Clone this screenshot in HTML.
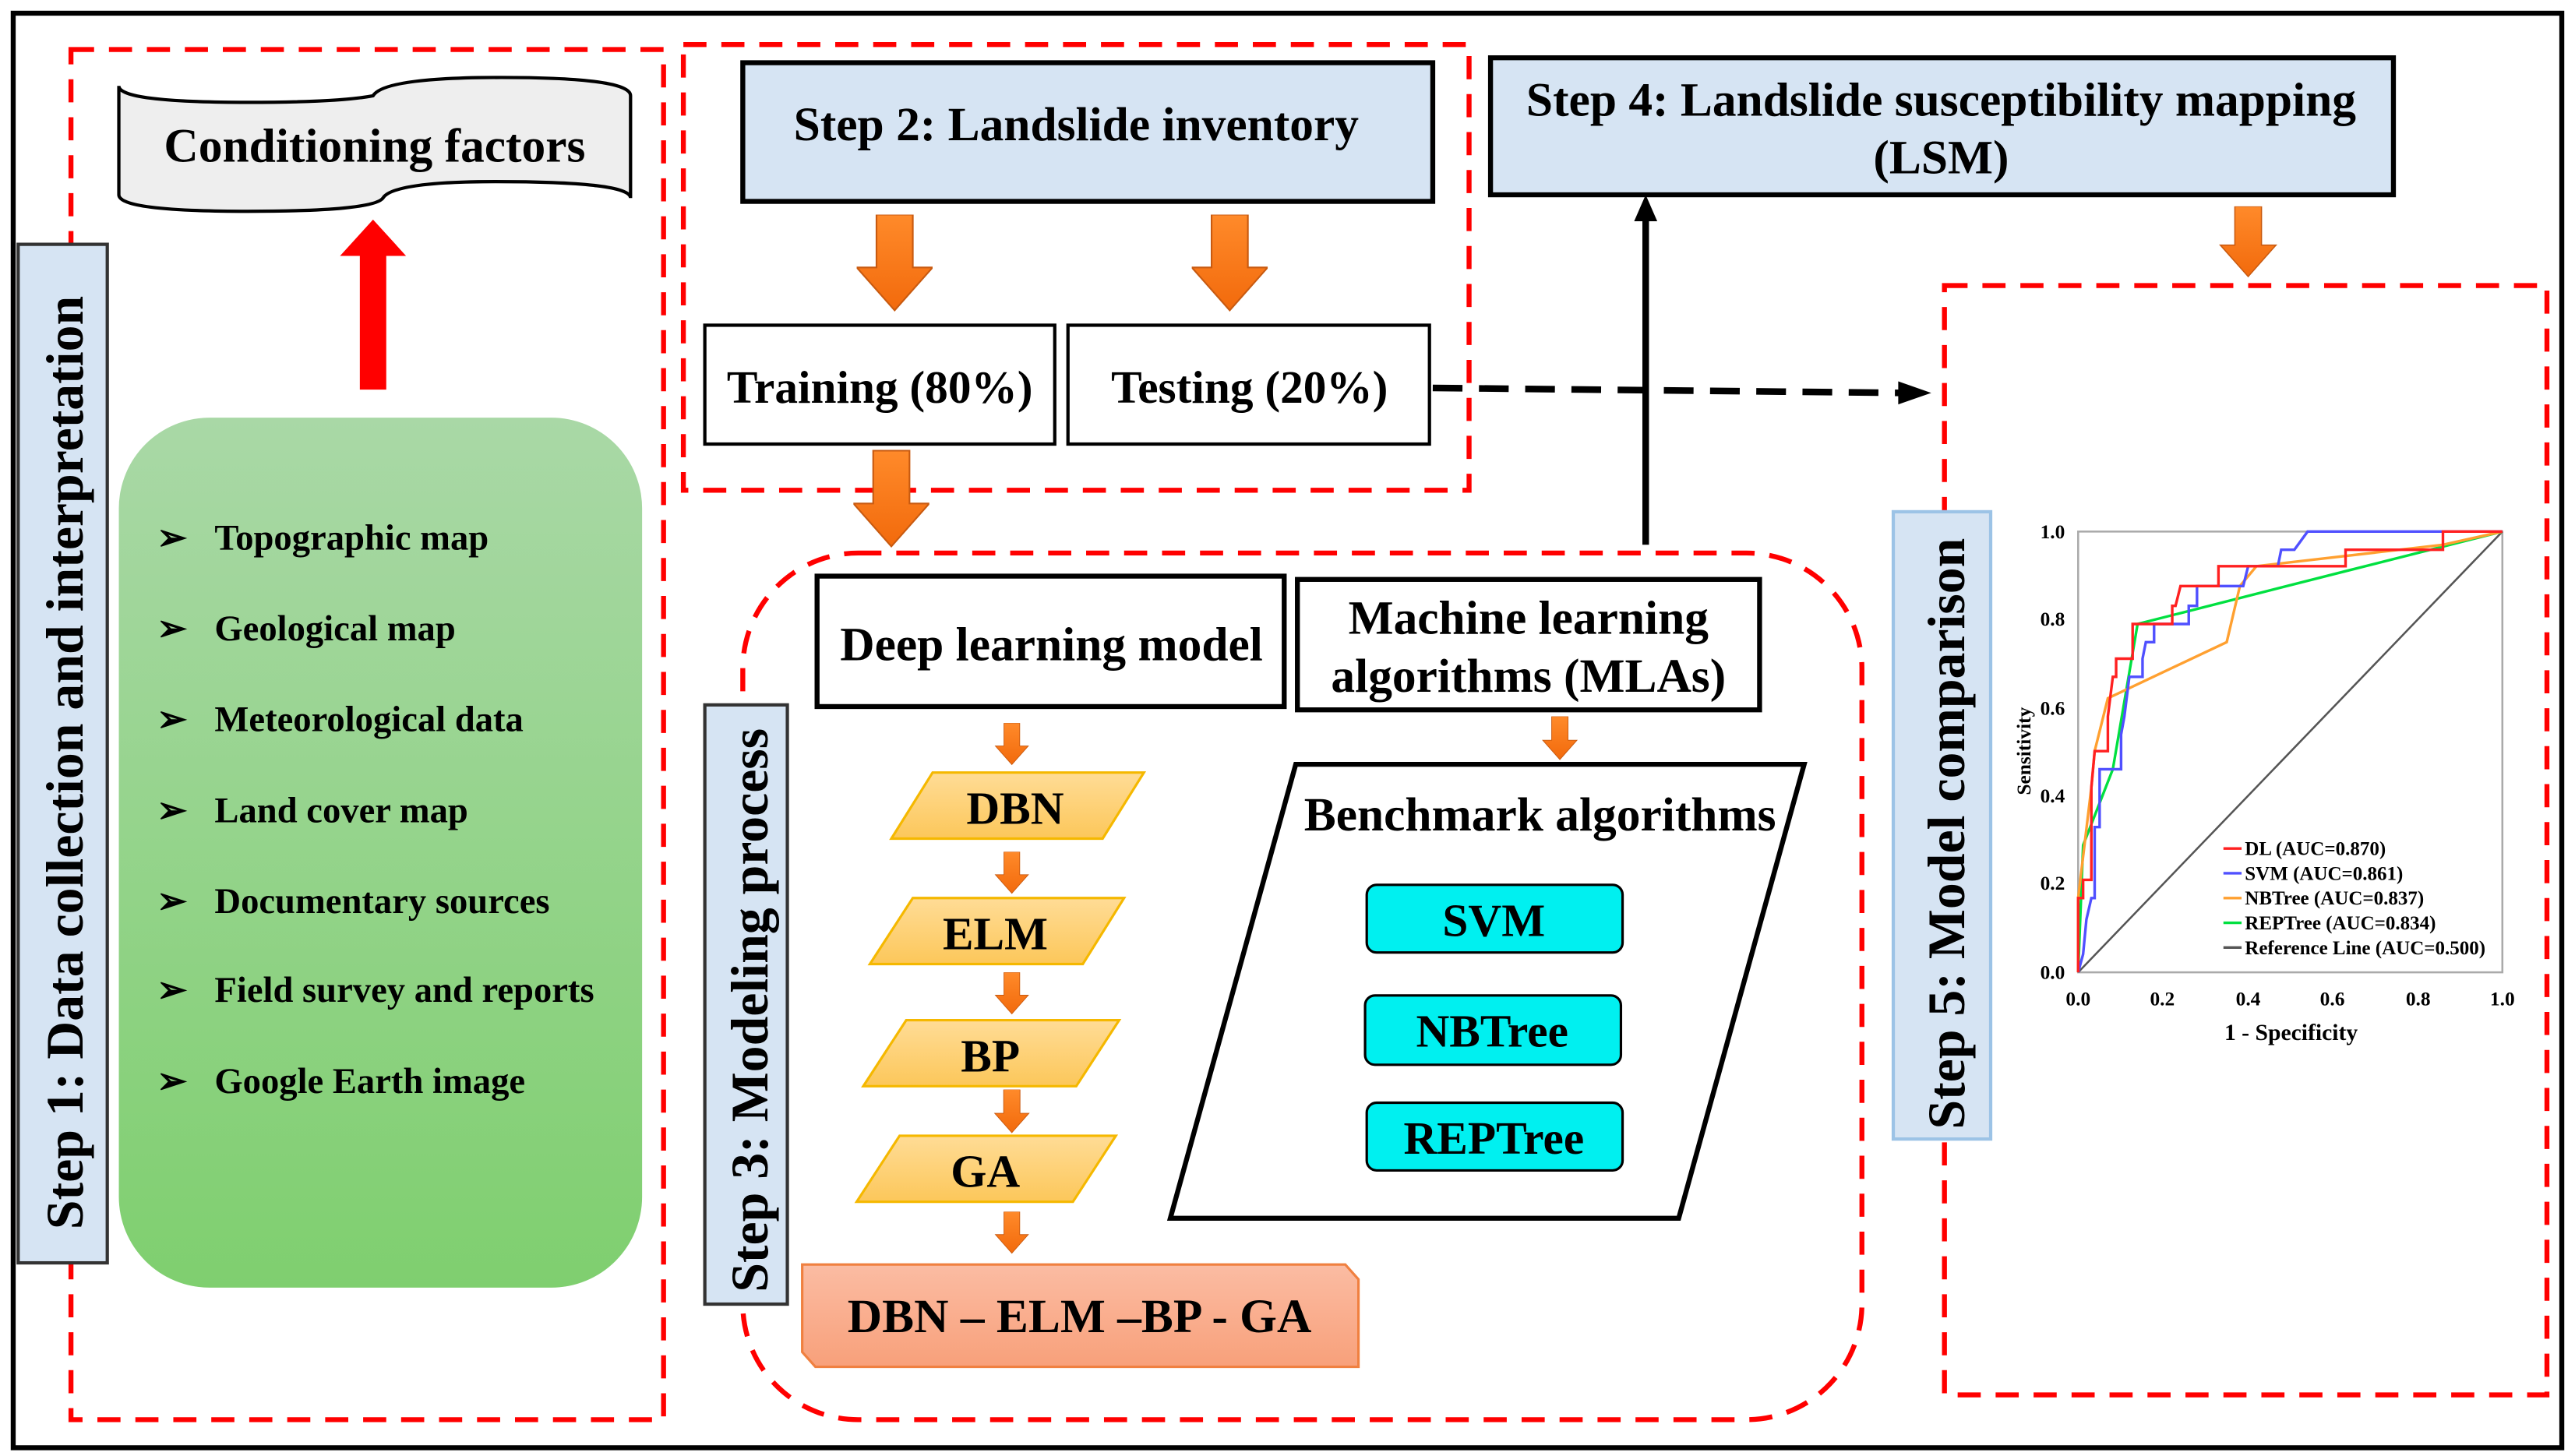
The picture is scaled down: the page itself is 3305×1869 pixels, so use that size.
<!DOCTYPE html>
<html><head><meta charset="utf-8"><style>
html,body{margin:0;padding:0;background:#fff;}
svg{display:block;}
text{font-family:"Liberation Serif",serif;font-weight:bold;fill:#000;}
</style></head><body>
<svg width="3305" height="1869" viewBox="0 0 1560 882" preserveAspectRatio="none" xmlns="http://www.w3.org/2000/svg">
<defs>
<linearGradient id="g1" x1="0" y1="0" x2="0" y2="1"><stop offset="0" stop-color="#a9d8a6"/><stop offset="1" stop-color="#7fcf6f"/></linearGradient>
<linearGradient id="gy" x1="0" y1="0" x2="0" y2="1"><stop offset="0" stop-color="#ffdc96"/><stop offset="1" stop-color="#fcc75a"/></linearGradient>
<linearGradient id="gs" x1="0" y1="0" x2="0" y2="1"><stop offset="0" stop-color="#fbbca3"/><stop offset="1" stop-color="#f8a07a"/></linearGradient>
<linearGradient id="go" x1="0" y1="0" x2="0" y2="1"><stop offset="0" stop-color="#ff8a2a"/><stop offset="1" stop-color="#f26a0c"/></linearGradient>
<symbol id="oa" viewBox="0 0 46 60"><path d="M12 0H34V32H46L23 58L0 32H12Z" fill="url(#go)" stroke="#c85a10" stroke-width="1"/></symbol>
</defs>
<rect x="8" y="8" width="1544" height="869" fill="#fff" stroke="#000" stroke-width="3"/>
<g fill="none" stroke="#f00" stroke-width="3" stroke-dasharray="14,9">
<rect x="43" y="30" width="359" height="830"/>
<rect x="414" y="27" width="476" height="270"/>
<rect x="450" y="335" width="678" height="525" rx="70"/>
<rect x="1178" y="173" width="365" height="672"/>
</g>
<!-- Step1 -->
<path d="M72 52 Q72 62 150 62 Q205 62 226 58 Q232 48 290 47 Q382 46 382 58 V120 Q382 110 300 110 Q238 110 232 120 Q226 128 150 128 Q72 128 72 118 Z" fill="#eee" stroke="#000" stroke-width="2"/>
<text x="227" y="98" font-size="29" text-anchor="middle">Conditioning factors</text>
<path d="M218 236 V155 H206 L226 133 L246 155 H234 V236 Z" fill="#f00"/>
<rect x="72" y="253" width="317" height="527" rx="55" fill="url(#g1)"/>
<g font-size="22">
<text x="95" y="333">➢</text><text x="130" y="333">Topographic map</text>
<text x="95" y="388">➢</text><text x="130" y="388">Geological map</text>
<text x="95" y="443">➢</text><text x="130" y="443">Meteorological data</text>
<text x="95" y="498">➢</text><text x="130" y="498">Land cover map</text>
<text x="95" y="553">➢</text><text x="130" y="553">Documentary sources</text>
<text x="95" y="607">➢</text><text x="130" y="607">Field survey and reports</text>
<text x="95" y="662">➢</text><text x="130" y="662">Google Earth image</text>
</g>
<rect x="11" y="148" width="54" height="617" fill="#d6e4f3" stroke="#333" stroke-width="2"/>
<text transform="translate(50,462) rotate(-90)" font-size="32" text-anchor="middle">Step 1: Data collection and interpretation</text>
<!-- Step2 -->
<rect x="450" y="38" width="418" height="84" fill="#d6e4f3" stroke="#000" stroke-width="3"/>
<text x="652" y="85" font-size="29" text-anchor="middle">Step 2: Landslide inventory</text>
<use href="#oa" x="519" y="130" width="46" height="60"/>
<use href="#oa" x="722" y="130" width="46" height="60"/>
<rect x="427" y="197" width="212" height="72" fill="#fff" stroke="#000" stroke-width="2"/>
<text x="533" y="244" font-size="28" text-anchor="middle">Training (80%)</text>
<rect x="647" y="197" width="219" height="72" fill="#fff" stroke="#000" stroke-width="2"/>
<text x="757" y="244" font-size="28" text-anchor="middle">Testing (20%)</text>
<use href="#oa" x="517" y="272" width="46" height="62"/>
<line x1="868" y1="235" x2="1152" y2="238" stroke="#000" stroke-width="4" stroke-dasharray="18,10"/>
<path d="M1150 231 L1170 238 L1150 245 Z" fill="#000"/>
<line x1="997" y1="330" x2="997" y2="132" stroke="#000" stroke-width="4"/>
<path d="M990 134 L997 118 L1004 134 Z" fill="#000"/>
<!-- Step4 -->
<rect x="903" y="35" width="547" height="83" fill="#d6e4f3" stroke="#000" stroke-width="3"/>
<text x="1176" y="70" font-size="29" text-anchor="middle">Step 4: Landslide susceptibility mapping</text>
<text x="1176" y="105" font-size="29" text-anchor="middle">(LSM)</text>
<use href="#oa" x="1339" y="125" width="46" height="44"/>
<!-- Step3 -->
<rect x="427" y="427" width="50" height="363" fill="#d6e4f3" stroke="#333" stroke-width="2"/>
<text transform="translate(465,612) rotate(-90)" font-size="32" text-anchor="middle">Step 3: Modeling process</text>
<rect x="495" y="349" width="283" height="79" fill="#fff" stroke="#000" stroke-width="3"/>
<text x="637" y="400" font-size="29" text-anchor="middle">Deep learning model</text>
<rect x="786" y="351" width="280" height="79" fill="#fff" stroke="#000" stroke-width="3"/>
<text x="926" y="384" font-size="29" text-anchor="middle">Machine learning</text>
<text x="926" y="419" font-size="29" text-anchor="middle">algorithms (MLAs)</text>
<use href="#oa" x="590" y="438" width="46" height="26"/>
<use href="#oa" x="590" y="516" width="46" height="26"/>
<use href="#oa" x="590" y="589" width="46" height="26"/>
<use href="#oa" x="590" y="660" width="46" height="27"/>
<use href="#oa" x="590" y="734" width="46" height="26"/>
<use href="#oa" x="922" y="434" width="46" height="27"/>
<g stroke="#f5b800" stroke-width="1.5" fill="url(#gy)">
<path d="M565 468 H693 L668 508 H540 Z"/>
<path d="M553 544 H681 L656 584 H527 Z"/>
<path d="M549 618 H678 L652 658 H523 Z"/>
<path d="M545 688 H676 L650 728 H519 Z"/>
</g>
<g font-size="28" text-anchor="middle">
<text x="615" y="499">DBN</text><text x="603" y="575">ELM</text><text x="600" y="649">BP</text><text x="597" y="719">GA</text>
</g>
<path d="M486 766 H815 L823 775 V828 H494 L486 819 Z" fill="url(#gs)" stroke="#f08040" stroke-width="1.5"/>
<text x="654" y="807" font-size="29" text-anchor="middle">DBN – ELM –BP - GA</text>
<path d="M785 463 H1093 L1017 738 H709 Z" fill="#fff" stroke="#000" stroke-width="3"/>
<text x="933" y="503" font-size="29" text-anchor="middle">Benchmark algorithms</text>
<g fill="#00f0f0" stroke="#000" stroke-width="1.5">
<rect x="828" y="536" width="155" height="41" rx="6"/>
<rect x="827" y="603" width="155" height="42" rx="6"/>
<rect x="828" y="668" width="155" height="41" rx="6"/>
</g>
<g font-size="28" text-anchor="middle">
<text x="905" y="567">SVM</text><text x="904" y="634">NBTree</text><text x="905" y="699">REPTree</text>
</g>
<!-- Step5 -->
<rect x="1147" y="310" width="59" height="380" fill="#d6e4f3" stroke="#9cc3e6" stroke-width="2"/>
<text transform="translate(1190,505) rotate(-90)" font-size="32" text-anchor="middle">Step 5: Model comparison</text>
<!-- ROC -->
<rect x="1259" y="322" width="257" height="267" fill="#fff" stroke="#aaa" stroke-width="1.2"/>
<g font-size="12" text-anchor="end">
<text x="1251" y="326">1.0</text><text x="1251" y="379">0.8</text><text x="1251" y="433">0.6</text><text x="1251" y="486">0.4</text><text x="1251" y="539">0.2</text><text x="1251" y="593">0.0</text>
</g>
<g font-size="12" text-anchor="middle">
<text x="1259" y="609">0.0</text><text x="1310" y="609">0.2</text><text x="1362" y="609">0.4</text><text x="1413" y="609">0.6</text><text x="1465" y="609">0.8</text><text x="1516" y="609">1.0</text>
</g>
<text x="1388" y="630" font-size="14" text-anchor="middle">1 - Specificity</text>
<text transform="translate(1230,455) rotate(-90)" font-size="12" text-anchor="middle">Sensitivity</text>
<g fill="none" stroke-width="1.6">
<polyline stroke="#555" stroke-width="1.2" points="1259,589 1516,322"/>
<polyline stroke="#00e040" points="1259,589 1262,512 1280,466 1295,378 1421,346 1516,322"/>
<polyline stroke="#ffa030" points="1259,589 1259,544 1267,477 1269,455 1277,423 1349,389 1357,355 1367,343 1480,330 1516,322"/>
<polyline stroke="#5050ff" points="1259,589 1262,578 1264,557 1267,544 1269,544 1269,501 1272,501 1272,466 1285,466 1285,445 1287,434 1290,410 1298,410 1298,399 1300,389 1305,389 1305,378 1326,378 1326,367 1331,367 1331,355 1359,355 1362,343 1380,343 1382,333 1390,333 1398,322 1516,322"/>
<polyline stroke="#ff2020" points="1259,589 1259,544 1262,544 1262,533 1267,533 1267,477 1269,455 1277,455 1277,434 1280,410 1282,410 1282,399 1292,399 1292,378 1316,378 1316,367 1318,367 1321,355 1344,355 1344,343 1421,343 1421,333 1480,333 1480,322 1516,322"/>
</g>
<g stroke-width="1.6">
<line x1="1347" y1="514" x2="1358" y2="514" stroke="#ff2020"/>
<line x1="1347" y1="529" x2="1358" y2="529" stroke="#5050ff"/>
<line x1="1347" y1="544" x2="1358" y2="544" stroke="#ffa030"/>
<line x1="1347" y1="559" x2="1358" y2="559" stroke="#00e040"/>
<line x1="1347" y1="574" x2="1358" y2="574" stroke="#555"/>
</g>
<g font-size="11.8">
<text x="1360" y="518">DL (AUC=0.870)</text>
<text x="1360" y="533">SVM (AUC=0.861)</text>
<text x="1360" y="548">NBTree (AUC=0.837)</text>
<text x="1360" y="563">REPTree (AUC=0.834)</text>
<text x="1360" y="578">Reference Line (AUC=0.500)</text>
</g>
</svg>
</body></html>
